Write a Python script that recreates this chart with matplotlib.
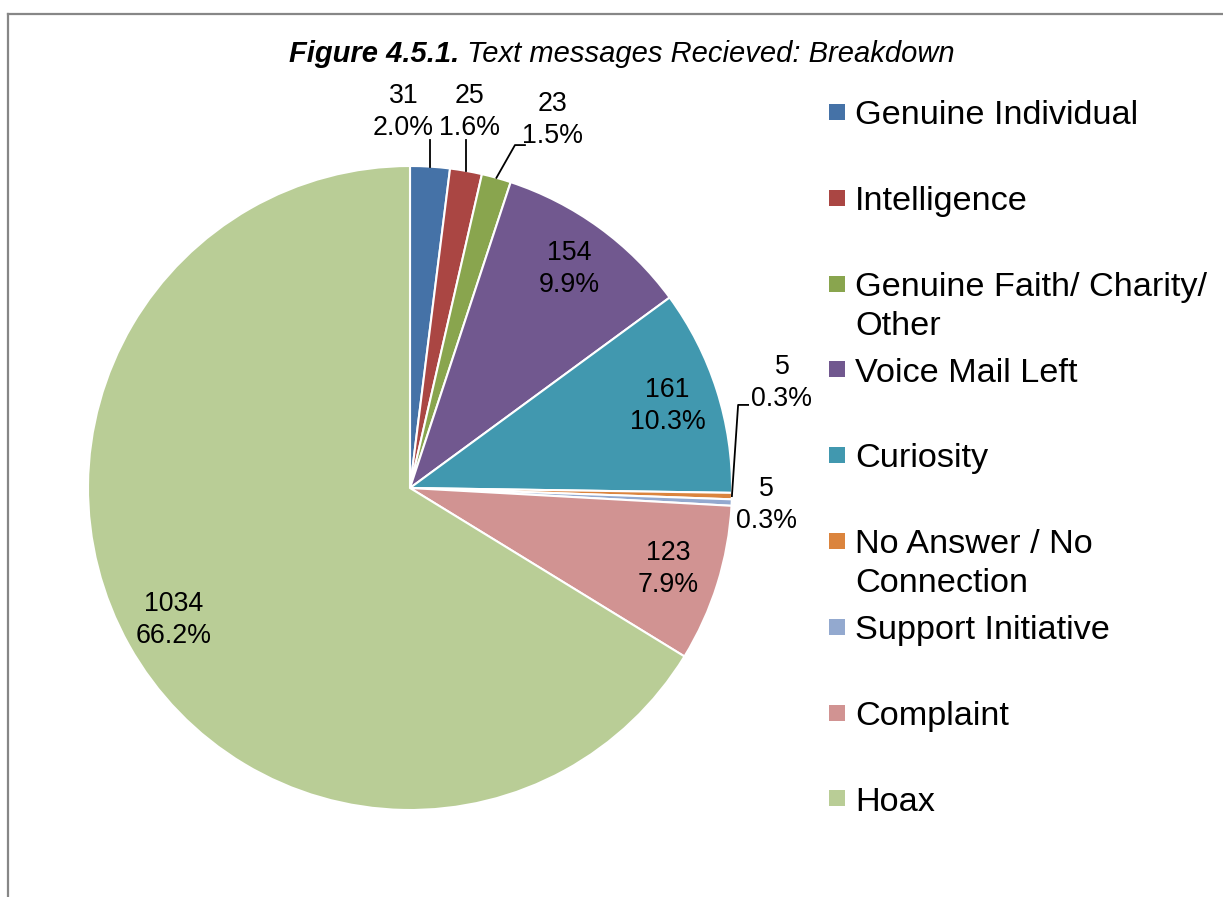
import matplotlib.pyplot as plt
from matplotlib.lines import Line2D
from matplotlib.patches import Rectangle
import numpy as np

plt.rcParams['font.family'] = ['Liberation Sans', 'DejaVu Sans']

categories = ['Genuine Individual', 'Intelligence', 'Genuine Faith/ Charity/\nOther',
              'Voice Mail Left', 'Curiosity', 'No Answer / No\nConnection',
              'Support Initiative', 'Complaint', 'Hoax']
counts = [31, 25, 23, 154, 161, 5, 5, 123, 1034]
percent_labels = ['2.0%', '1.6%', '1.5%', '9.9%', '10.3%', '0.3%', '0.3%', '7.9%', '66.2%']
colors = ['#4572A7', '#AA4643', '#89A54E', '#71588F', '#4198AF',
          '#DB843D', '#93A9CF', '#D19392', '#B9CD96']

W, H = 1223, 897
fig = plt.figure(figsize=(W / 100, H / 100), dpi=100)

# pie centre and radius in pixels
cx, cy, R = 410, 488, 322
ax = fig.add_axes([(cx - R) / W, (H - cy - R) / H, 2 * R / W, 2 * R / H])
wedges, _ = ax.pie(counts, colors=colors, startangle=90, counterclock=False,
                   radius=1, wedgeprops=dict(edgecolor='white', linewidth=1.5))
ax.set_xlim(-1, 1)
ax.set_ylim(-1, 1)
ax.set_aspect('equal')
ax.axis('off')

lab_size = 19.3
lab_ls = 1.3
# labels inside the big slices
for i, w in enumerate(wedges):
    text = '%d\n%s' % (counts[i], percent_labels[i])
    mid = np.deg2rad((w.theta1 + w.theta2) / 2)
    if counts[i] > 100:
        ax.text(0.84 * np.cos(mid), 0.84 * np.sin(mid), text, ha='center', va='center',
                fontsize=lab_size, linespacing=lab_ls)

# outside labels for the small slices (positions in radius units)
outside = {0: (-0.02, 1.168), 1: (0.185, 1.168), 2: (0.444, 1.143),
           5: (1.155, 0.326), 6: (1.106, -0.053)}
for i, (tx, ty) in outside.items():
    text = '%d\n%s' % (counts[i], percent_labels[i])
    ax.text(tx, ty, text, ha='center', va='center', fontsize=lab_size,
            linespacing=lab_ls, clip_on=False)

def edge(i):
    m = np.deg2rad((wedges[i].theta1 + wedges[i].theta2) / 2)
    return np.cos(m), np.sin(m)

x0, y0 = edge(0)
ax.plot([x0, x0], [y0, 1.08], color='black', lw=1.3, clip_on=False)
x1, y1 = edge(1)
ax.plot([x1, x1], [y1, 1.08], color='black', lw=1.3, clip_on=False)
x2, y2 = edge(2)
ax.plot([x2, 0.326, 0.357], [y2, 1.065, 1.065], color='black', lw=1.3, clip_on=False)
x5, y5 = edge(5)
ax.plot([x5, 1.019, 1.05], [y5, 0.258, 0.258], color='black', lw=1.3, clip_on=False)

# title
ty = 1 - 62 / H
fig.text(459 / W, ty, 'Figure 4.5.1.', ha='right', va='baseline', fontsize=21,
         fontweight='bold', fontstyle='italic')
fig.text(459 / W, ty, ' Text messages Recieved: Breakdown', ha='left', va='baseline',
         fontsize=21, fontstyle='italic')

# legend drawn by hand so the marker sits on the first line
leg_y = 112
step = 85.8
for i, name in enumerate(categories):
    yc = leg_y + i * step
    fig.add_artist(Rectangle(((829) / W, 1 - (yc + 8) / H), 16 / W, 16 / H,
                             transform=fig.transFigure, facecolor=colors[i],
                             edgecolor='none'))
    for j, part in enumerate(name.split('\n')):
        fig.text(855 / W, 1 - (yc + 12.3 + j * 39) / H, part, ha='left',
                 va='baseline', fontsize=24.7)

# grey frame
fig.add_artist(Line2D([8 / W, 8 / W], [0, 1 - 14 / H], color='#878787', lw=1.6,
                      transform=fig.transFigure))
fig.add_artist(Line2D([8 / W, 1], [1 - 14 / H, 1 - 14 / H], color='#878787', lw=1.6,
                      transform=fig.transFigure))

fig.savefig('out.png', dpi=100)
